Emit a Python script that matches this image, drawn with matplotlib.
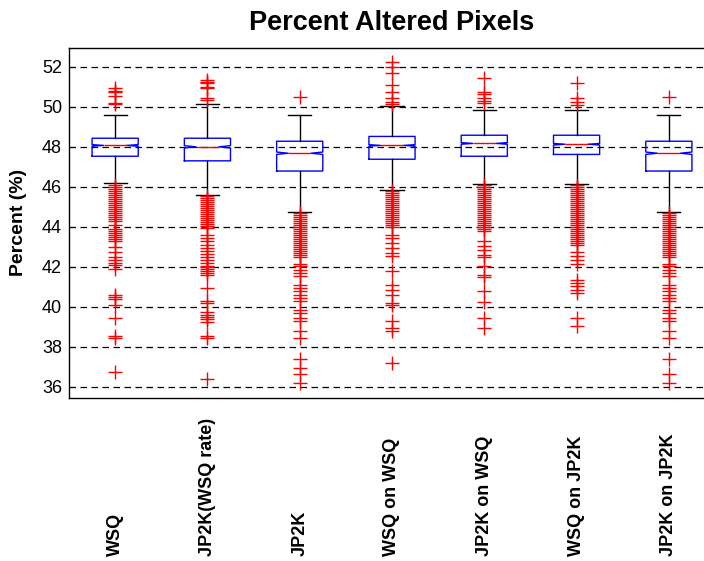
import matplotlib
matplotlib.use("Agg")
import matplotlib.pyplot as plt
from matplotlib.transforms import blended_transform_factory

plt.rcParams['font.family'] = ['Liberation Sans', 'DejaVu Sans']

# kategorier
labels = ["WSQ", "JP2K(WSQ rate)", "JP2K", "WSQ on WSQ",
          "JP2K on WSQ", "WSQ on JP2K", "JP2K on JP2K"]

# boks-statistikk lest av figuren (prosent)
medians = [48.06, 47.99, 47.67, 48.06, 48.16, 48.12, 47.67]
q1 = [47.52, 47.29, 46.78, 47.37, 47.52, 47.61, 46.78]
q3 = [48.42, 48.42, 48.27, 48.51, 48.57, 48.57, 48.27]
whisk_lo = [46.19, 45.58, 44.71, 45.81, 46.13, 46.13, 44.71]
whisk_hi = [49.60, 50.14, 49.60, 50.05, 49.84, 49.84, 49.60]
notch_half = [0.04, 0.06, 0.06, 0.04, 0.04, 0.04, 0.06]

# uteliggere
out_wsq = [50.92, 50.80, 50.72, 50.55, 50.20, 50.12,
           46.1, 46.0, 45.9, 45.8, 45.7, 45.6, 45.5, 45.4, 45.3, 45.2, 45.1,
           45.0, 44.9, 44.8, 44.7, 44.6, 44.5, 44.4, 44.3, 44.1, 43.9, 43.8,
           43.7, 43.6, 43.5, 43.4, 43.3, 43.0, 42.75, 42.5, 42.33, 42.2,
           42.08, 41.9, 40.56, 40.48, 40.4, 40.08, 39.45, 38.53, 38.42, 36.73]
out_jp2k_wsqrate = [51.33, 51.25, 51.17, 51.0, 50.92, 50.45, 50.34,
                    45.55, 45.45, 45.35, 45.25, 45.15, 45.05, 44.95, 44.85,
                    44.75, 44.65, 44.55, 44.45, 44.35, 44.25, 44.15, 44.05,
                    43.95, 43.6, 43.43, 43.26, 43.06, 42.93, 42.8, 42.65,
                    42.5, 42.35, 42.2, 42.05, 41.98, 41.9, 41.8, 41.7, 41.6,
                    40.93, 40.3, 40.2, 39.75, 39.6, 39.5, 39.4, 39.25, 38.55,
                    38.45, 36.37]
out_jp2k = [50.50,
            44.7, 44.6, 44.5, 44.4, 44.3, 44.2, 44.1, 44.0, 43.9, 43.8, 43.7,
            43.6, 43.5, 43.4, 43.3, 43.2, 43.1, 43.0, 42.9, 42.8, 42.7, 42.6,
            42.5, 42.13, 42.02, 41.85, 41.68, 41.52, 41.1, 40.94, 40.77, 40.6,
            40.44, 40.27, 39.85, 39.69, 39.44, 39.27, 38.77, 38.44, 37.36,
            36.94, 36.61, 36.19]
out_wsq_wsq = [52.25, 52.0, 51.67, 51.08, 50.75, 50.42, 50.25, 50.12,
               45.8, 45.7, 45.6, 45.5, 45.4, 45.3, 45.2, 45.1, 45.0, 44.9,
               44.8, 44.7, 44.6, 44.5, 44.4, 44.3, 44.2, 44.1, 44.0, 43.6,
               43.43, 43.18, 42.93, 42.68, 42.52, 41.77, 41.1, 40.85, 40.6,
               40.19, 40.07, 39.27, 38.94, 38.77, 37.19]
out_jp2k_wsq = [51.45, 50.75, 50.62, 50.45, 50.29, 50.17,
                46.1, 46.0, 45.9, 45.8, 45.7, 45.6, 45.5, 45.4, 45.3, 45.2,
                45.1, 45.0, 44.9, 44.8, 44.7, 44.6, 44.5, 44.4, 44.3, 44.2,
                44.1, 44.0, 43.9, 43.8, 43.26, 43.01, 42.85, 42.6, 42.47,
                42.02, 41.6, 41.47, 40.77, 40.24, 39.44, 38.94]
out_wsq_jp2k = [51.17, 50.42, 50.22, 50.09,
                46.1, 46.0, 45.9, 45.8, 45.7, 45.6, 45.5, 45.4, 45.3, 45.2,
                45.1, 45.0, 44.9, 44.8, 44.7, 44.6, 44.5, 44.4, 44.3, 44.2,
                44.1, 44.0, 43.9, 43.8, 43.7, 43.6, 43.5, 43.4, 43.3, 43.2,
                43.1, 42.73, 42.52, 42.35, 42.13, 41.35, 41.18, 41.01, 40.85,
                40.68, 39.44, 39.02]
out_jp2k_jp2k = [50.50,
                 44.7, 44.6, 44.5, 44.4, 44.3, 44.2, 44.1, 44.0, 43.9, 43.8,
                 43.7, 43.6, 43.5, 43.4, 43.3, 43.2, 43.1, 43.0, 42.9, 42.8,
                 42.7, 42.6, 42.5, 42.13, 42.02, 41.85, 41.68, 41.52, 41.1,
                 40.94, 40.77, 40.6, 40.44, 40.27, 39.85, 39.69, 39.44, 39.27,
                 38.77, 38.44, 37.36, 36.61, 36.19]
outliers = [out_wsq, out_jp2k_wsqrate, out_jp2k, out_wsq_wsq,
            out_jp2k_wsq, out_wsq_jp2k, out_jp2k_jp2k]

yticks = [36, 38, 40, 42, 44, 46, 48, 50, 52]

# bygg statistikk for bxp
stats = []
for i in range(len(labels)):
    stats.append(dict(med=medians[i], q1=q1[i], q3=q3[i],
                      whislo=whisk_lo[i], whishi=whisk_hi[i],
                      cilo=medians[i] - notch_half[i],
                      cihi=medians[i] + notch_half[i],
                      fliers=outliers[i]))

fig = plt.figure(figsize=(7.04, 5.61), dpi=100)
W, H = 704, 561
ax = fig.add_axes([69 / W, 1 - 397.5 / H, 646 / W, 349.5 / H])

for y in yticks:
    ax.axhline(y, color='k', lw=0.9, linestyle=(0, (5.2, 3.6)), zorder=0)

ax.bxp(stats, positions=range(1, 8), widths=0.5, capwidths=0.25,
       shownotches=True,
       boxprops=dict(color='blue', lw=1),
       medianprops=dict(color='red', lw=1),
       whiskerprops=dict(color='black', lw=1),
       capprops=dict(color='black', lw=1),
       flierprops=dict(marker='+', markeredgecolor='red', markersize=9.5,
                       markeredgewidth=1, linestyle='none'))

ax.set_xlim(0.5, 7.5)
ax.set_ylim(35.46, 52.93)
ax.set_yticks(yticks)
ax.set_yticklabels([str(v) for v in yticks], fontsize=13)
ax.tick_params(axis='y', direction='in', length=4, pad=5)
ax.set_xticks([])
for s in ax.spines.values():
    s.set_linewidth(1)
ax.spines['right'].set_visible(False)

ax.set_ylabel("Percent (%)", fontsize=14, fontweight='bold')
ax.yaxis.set_label_coords((27 - 69) / 646, 0.5)

trans = blended_transform_factory(ax.transData, fig.transFigure)
for i, lab in enumerate(labels):
    ax.text(i + 1, 5 / H, lab, transform=trans, rotation=90,
            ha='center', va='bottom', fontsize=13, fontweight='bold')

fig.text(392 / W, 1 - 23 / H, "Percent Altered Pixels", ha='center',
         va='center', fontsize=19.5, fontweight='bold')

fig.savefig("out.png", dpi=100)
